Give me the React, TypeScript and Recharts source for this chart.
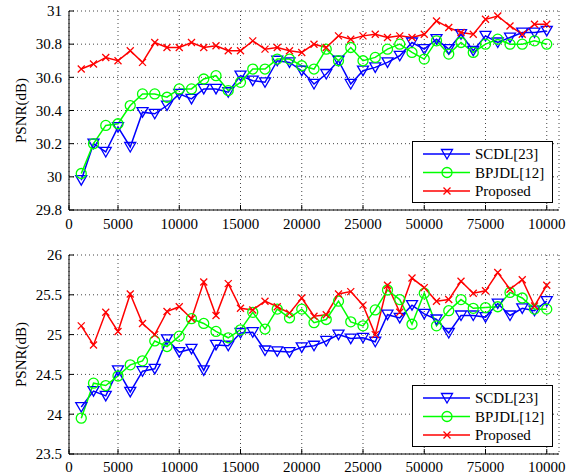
import React from 'react';
import { CartesianGrid, Legend, Line, LineChart, XAxis, YAxis } from 'recharts';

const xValues = [
  2000, 3000, 4000, 5000, 6000, 7000, 8000, 9000, 10000, 11000, 12000, 13000, 14000,
  15000, 16000, 17000, 18000, 19000, 20000, 21000, 22000, 23000, 24000, 25000, 26000,
  27000, 28000, 29000, 30000, 31000, 32000, 33000, 34000, 35000, 36000, 37000, 38000,
  39000, 40000,
];
const xTicks = [1000, 5000, 10000, 15000, 20000, 25000, 30000, 35000, 40000];
const xTickLabels = ['0', '5000', '10000', '15000', '20000', '25000', '50000', '75000', '10000'];

// upper panel
const scdlTop = [
  29.98, 30.2, 30.15, 30.3, 30.18, 30.39, 30.38, 30.43, 30.5, 30.47, 30.53, 30.53, 30.51,
  30.61, 30.58, 30.57, 30.7, 30.69, 30.64, 30.56, 30.62, 30.7, 30.56, 30.64, 30.66, 30.69,
  30.73, 30.81, 30.77, 30.83, 30.77, 30.86, 30.76, 30.85, 30.81, 30.84, 30.87, 30.87, 30.88,
];
const bpjdlTop = [
  30.02, 30.2, 30.31, 30.32, 30.43, 30.5, 30.5, 30.48, 30.53, 30.53, 30.59, 30.61, 30.52,
  30.57, 30.65, 30.65, 30.71, 30.71, 30.67, 30.65, 30.77, 30.7, 30.78, 30.7, 30.72, 30.77,
  30.8, 30.75, 30.71, 30.82, 30.74, 30.81, 30.75, 30.8, 30.83, 30.8, 30.8, 30.82, 30.8,
];
const proposedTop = [
  30.65, 30.68, 30.72, 30.7, 30.76, 30.69, 30.81, 30.78, 30.78, 30.81, 30.78, 30.79, 30.76,
  30.76, 30.82, 30.77, 30.78, 30.76, 30.75, 30.8, 30.78, 30.85, 30.83, 30.85, 30.86, 30.84,
  30.85, 30.84, 30.86, 30.94, 30.9, 30.87, 30.86, 30.95, 30.97, 30.91, 30.86, 30.92, 30.92,
];
const yTicksTop = [29.8, 30, 30.2, 30.4, 30.6, 30.8, 31];

// lower panel
const scdlBottom = [
  24.09, 24.29, 24.23, 24.55, 24.28, 24.54, 24.57, 24.94, 24.78, 24.82, 24.55, 24.87, 24.86,
  25.02, 25.03, 24.8, 24.79, 24.78, 24.84, 24.86, 24.92, 25.0, 24.95, 24.96, 24.91, 25.25,
  25.21, 25.37, 25.26, 25.19, 25.02, 25.24, 25.24, 25.22, 25.39, 25.24, 25.33, 25.3, 25.42,
];
const bpjdlBottom = [
  23.95, 24.39, 24.36, 24.48, 24.62, 24.67, 24.92, 24.85, 24.98, 25.2, 25.14, 25.04, 24.96,
  25.06, 25.28, 25.07, 25.32, 25.21, 25.32, 25.15, 25.19, 25.42, 25.16, 25.11, 25.31, 25.56,
  25.44, 25.13, 25.52, 25.11, 25.3, 25.44, 25.33, 25.34, 25.35, 25.53, 25.46, 25.32, 25.32,
];
const proposedBottom = [
  25.11, 24.87, 25.28, 25.04, 25.51, 25.14, 25.0, 25.29, 25.35, 25.2, 25.66, 25.24, 25.64,
  25.33, 25.31, 25.42, 25.35, 25.27, 25.46, 25.23, 25.25, 25.51, 25.54, 25.37, 25.0, 25.62,
  25.28, 25.71, 25.59, 25.42, 25.44, 25.67, 25.52, 25.55, 25.78, 25.57, 25.69, 25.36, 25.62,
];
const yTicksBottom = [23.5, 24, 24.5, 25, 25.5, 26];

const FONT = 'Liberation Serif, DejaVu Serif, serif';
const BLUE = '#0000ff';
const GREEN = '#00ff00';
const RED = '#ff0000';

function Tri({ cx, cy, color }: { cx: number; cy: number; color: string }) {
  return (
    <polygon
      points={`${cx - 5.5},${cy - 4.5} ${cx + 5.5},${cy - 4.5} ${cx},${cy + 5}`}
      fill="none"
      stroke={color}
      strokeWidth={1.3}
    />
  );
}

function Ring({ cx, cy, color }: { cx: number; cy: number; color: string }) {
  return <circle cx={cx} cy={cy} r={5} fill="none" stroke={color} strokeWidth={1.3} />;
}

function Cross({ cx, cy, color }: { cx: number; cy: number; color: string }) {
  return (
    <path
      d={`M${cx - 3.5},${cy - 3.5}L${cx + 3.5},${cy + 3.5}M${cx - 3.5},${cy + 3.5}L${cx + 3.5},${cy - 3.5}`}
      stroke={color}
      strokeWidth={1.3}
    />
  );
}

const series = [
  { key: 'scdl', name: 'SCDL[23]', color: BLUE, Marker: Tri },
  { key: 'bpjdl', name: 'BPJDL[12]', color: GREEN, Marker: Ring },
  { key: 'proposed', name: 'Proposed', color: RED, Marker: Cross },
];

function LegendBox() {
  return (
    <svg width={141} height={62} style={{ display: 'block' }}>
      <rect x={0.5} y={0.5} width={140} height={61} fill="#fff" stroke="#000" strokeWidth={1} />
      {series.map((s, i) => {
        const y = 13 + i * 18.5;
        return (
          <g key={s.key}>
            <line x1={11} x2={58} y1={y} y2={y} stroke={s.color} strokeWidth={1.5} />
            <s.Marker cx={35} cy={y} color={s.color} />
            <text x={63} y={y} dy="0.35em" style={{ fontFamily: FONT, fontSize: 15 }} fill="#000">
              {s.name}
            </text>
          </g>
        );
      })}
    </svg>
  );
}

const fmtY = (v: number) => String(Number(v.toFixed(1)));
const fmtX = (v: number) => xTickLabels[xTicks.indexOf(v)] ?? '';

const tickStyle = { fontFamily: FONT, fontSize: 15, fill: '#000' };

function renderYLabel(props: any) {
  const vb = props.viewBox || {};
  const cy = vb.y + vb.height / 2;
  return (
    <text
      x={21}
      y={cy}
      transform={`rotate(-90, 21, ${cy})`}
      textAnchor="middle"
      dominantBaseline="central"
      style={{ fontFamily: FONT, fontSize: 15 }}
      fill="#000"
    >
      PSNR(dB)
    </text>
  );
}

interface PanelProps {
  scdl: number[];
  bpjdl: number[];
  proposed: number[];
  yTicks: number[];
  height: number;
  top: number;
  axisHeight: number;
  tickGap: number;
  legendTop: number;
}

function Panel({ scdl, bpjdl, proposed, yTicks, height, top, axisHeight, tickGap, legendTop }: PanelProps) {
  const data = xValues.map((x, i) => ({ x, scdl: scdl[i], bpjdl: bpjdl[i], proposed: proposed[i] }));
  const domain: [number, number] = [yTicks[0], yTicks[yTicks.length - 1]];
  return (
    <LineChart
      width={581}
      height={height}
      data={data}
      margin={{ top, right: 22, left: 0, bottom: 0 }}
      style={{ fontFamily: FONT }}
    >
      <CartesianGrid stroke="#444" strokeDasharray="1 3" />
      <XAxis
        dataKey="x"
        type="number"
        domain={[1000, 41000]}
        ticks={xTicks}
        interval={0}
        tickFormatter={fmtX}
        height={axisHeight}
        tickSize={-5}
        tickMargin={tickGap}
        stroke="#000"
        tick={tickStyle}
      />
      <XAxis
        xAxisId="top"
        orientation="top"
        dataKey="x"
        type="number"
        domain={[1000, 41000]}
        ticks={xTicks}
        interval={0}
        height={0}
        tickSize={-5}
        tick={false}
        stroke="#000"
      />
      <YAxis
        type="number"
        domain={domain}
        ticks={yTicks}
        interval={0}
        tickFormatter={fmtY}
        width={69}
        tickSize={-5}
        tickMargin={12}
        stroke="#000"
        tick={tickStyle}
        label={{ content: renderYLabel }}
      />
      <YAxis
        yAxisId="right"
        orientation="right"
        type="number"
        domain={domain}
        ticks={yTicks}
        interval={0}
        width={0}
        tickSize={-5}
        tick={false}
        stroke="#000"
      />
      <Legend
        layout="vertical"
        align="center"
        verticalAlign="middle"
        content={<LegendBox />}
        wrapperStyle={{ left: 412, top: legendTop, width: 141, height: 62 }}
      />
      {series.map((s) => (
        <Line
          key={s.key}
          dataKey={s.key}
          name={s.name}
          type="linear"
          stroke={s.color}
          strokeWidth={1.5}
          dot={(p: any) => <s.Marker key={`${s.key}-${p.index}`} cx={p.cx} cy={p.cy} color={s.color} />}
          activeDot={false}
          isAnimationActive={false}
        />
      ))}
    </LineChart>
  );
}

export default function App() {
  return (
    <div style={{ position: 'absolute', left: 0, top: 0, width: 581, height: 476, background: '#fff' }}>
      <Panel
        scdl={scdlTop}
        bpjdl={bpjdlTop}
        proposed={proposedTop}
        yTicks={yTicksTop}
        height={240}
        top={11}
        axisHeight={30}
        tickGap={13}
        legendTop={141}
      />
      <Panel
        scdl={scdlBottom}
        bpjdl={bpjdlBottom}
        proposed={proposedBottom}
        yTicks={yTicksBottom}
        height={236}
        top={15}
        axisHeight={22}
        tickGap={12}
        legendTop={145}
      />
    </div>
  );
}
